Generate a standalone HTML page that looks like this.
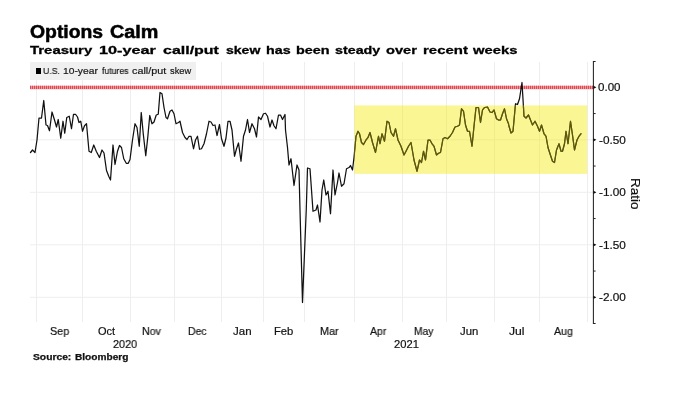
<!DOCTYPE html>
<html><head><meta charset="utf-8"><title>Options Calm</title>
<style>
html,body{margin:0;padding:0;background:#fff;}
body{width:681px;height:400px;position:relative;overflow:hidden;font-family:"Liberation Sans",sans-serif;color:#111;}
.t{position:absolute;white-space:nowrap;line-height:1;transform-origin:0 0;will-change:transform;}
.c{position:absolute;white-space:nowrap;line-height:1;text-align:center;width:60px;font-size:11px;color:#222;}
</style></head><body>

<svg width="681" height="400" viewBox="0 0 681 400" style="position:absolute;left:0;top:0">
<line x1="36.5" y1="62" x2="36.5" y2="322" stroke="#eeeeee" stroke-width="1"/>
<line x1="82.5" y1="62" x2="82.5" y2="322" stroke="#eeeeee" stroke-width="1"/>
<line x1="130.5" y1="62" x2="130.5" y2="322" stroke="#eeeeee" stroke-width="1"/>
<line x1="174.5" y1="62" x2="174.5" y2="322" stroke="#eeeeee" stroke-width="1"/>
<line x1="221.5" y1="62" x2="221.5" y2="322" stroke="#eeeeee" stroke-width="1"/>
<line x1="263.5" y1="62" x2="263.5" y2="322" stroke="#eeeeee" stroke-width="1"/>
<line x1="304.5" y1="62" x2="304.5" y2="322" stroke="#eeeeee" stroke-width="1"/>
<line x1="354.5" y1="62" x2="354.5" y2="322" stroke="#eeeeee" stroke-width="1"/>
<line x1="402.5" y1="62" x2="402.5" y2="322" stroke="#eeeeee" stroke-width="1"/>
<line x1="446.5" y1="62" x2="446.5" y2="322" stroke="#eeeeee" stroke-width="1"/>
<line x1="494.5" y1="62" x2="494.5" y2="322" stroke="#eeeeee" stroke-width="1"/>
<line x1="539.5" y1="62" x2="539.5" y2="322" stroke="#eeeeee" stroke-width="1"/>
<line x1="587.5" y1="62" x2="587.5" y2="322" stroke="#eeeeee" stroke-width="1"/>
<line x1="30" y1="87.3" x2="593" y2="87.3" stroke="#eeeeee" stroke-width="1"/>
<line x1="30" y1="139.8" x2="593" y2="139.8" stroke="#eeeeee" stroke-width="1"/>
<line x1="30" y1="192.3" x2="593" y2="192.3" stroke="#eeeeee" stroke-width="1"/>
<line x1="30" y1="244.8" x2="593" y2="244.8" stroke="#eeeeee" stroke-width="1"/>
<line x1="30" y1="297.3" x2="593" y2="297.3" stroke="#eeeeee" stroke-width="1"/>
<line x1="30" y1="87.4" x2="593" y2="87.4" stroke="#f0959a" stroke-width="3.5"/>
<line x1="30" y1="87.4" x2="593" y2="87.4" stroke="#dd4a55" stroke-width="3.3" stroke-dasharray="1 1"/>
<path d="M30.5,152.5 L32.5,150.0 L35.0,152.5 L37.0,140.0 L39.0,118.0 L41.5,118.0 L43.75,100.5 L46.0,125.0 L47.5,125.5 L49.5,130.75 L52.0,112.0 L54.5,120.0 L56.5,127.0 L58.25,119.5 L60.75,138.25 L63.0,121.25 L64.75,133.25 L66.75,117.5 L69.25,116.25 L71.5,128.75 L73.5,114.25 L75.5,114.25 L77.5,117.0 L79.0,122.5 L80.75,121.25 L82.5,131.25 L84.5,125.75 L86.5,123.75 L89.0,151.25 L91.25,152.5 L93.75,145.0 L96.25,151.25 L99.5,157.5 L102.0,150.0 L104.0,153.0 L106.5,170.5 L108.75,176.25 L110.5,180.0 L113.0,145.0 L115.0,164.5 L117.5,151.25 L119.5,145.5 L121.5,147.5 L123.75,158.75 L126.25,163.25 L128.25,163.25 L130.0,159.5 L132.5,140.0 L135.0,123.75 L137.0,127.5 L139.25,146.25 L141.25,112.5 L143.25,133.75 L145.75,155.75 L147.75,137.5 L149.75,115.5 L152.0,123.75 L154.0,122.0 L156.25,115.0 L158.25,114.25 L160.0,92.5 L162.0,93.75 L164.0,107.5 L166.0,117.5 L167.5,118.75 L170.0,111.25 L172.0,110.0 L174.0,113.75 L176.0,123.75 L178.5,122.5 L180.0,121.25 L182.5,132.5 L185.0,137.5 L187.0,139.5 L189.0,136.25 L191.0,136.25 L193.5,148.75 L195.5,140.0 L197.5,136.25 L199.5,149.25 L201.5,148.75 L204.0,143.75 L206.5,133.75 L209.0,121.25 L211.0,122.0 L213.0,125.5 L215.0,125.0 L217.0,135.5 L219.5,124.5 L221.5,138.75 L224.0,146.25 L226.0,138.0 L228.0,121.25 L230.0,121.25 L232.0,130.0 L234.5,156.25 L236.5,148.75 L238.5,143.0 L241.0,161.25 L243.5,136.25 L245.5,130.0 L247.5,119.5 L249.5,132.5 L252.0,123.75 L254.5,128.75 L256.5,137.0 L258.5,117.0 L261.0,119.5 L263.5,113.75 L265.5,113.25 L267.5,116.25 L270.0,127.0 L272.0,120.0 L274.0,125.75 L276.0,128.75 L278.5,115.0 L280.5,115.0 L282.5,119.5 L285.0,114.5 L285.5,130.0 L287.5,147.5 L289.0,165.0 L291.0,158.75 L294.0,185.5 L297.0,165.0 L299.0,170.0 L300.0,210.0 L302.5,302.5 L306.25,210.0 L307.5,168.0 L310.0,168.75 L313.0,211.25 L316.0,210.0 L317.5,205.0 L320.0,222.0 L322.0,190.0 L323.75,180.0 L326.0,195.0 L328.0,191.25 L330.5,213.75 L333.0,170.0 L335.0,195.0 L337.5,182.5 L339.0,173.0 L341.5,186.25 L344.0,183.75 L346.5,168.75 L349.0,167.5 L350.5,165.5 L352.5,170.0 L354.0,157.5 L356.0,136.25 L358.0,131.25 L359.5,133.75 L361.5,142.5 L363.5,144.5 L366.0,140.0 L368.0,137.5 L370.0,132.5 L372.5,142.5 L375.5,152.5 L378.5,136.25 L380.0,143.75 L382.0,133.75 L384.5,141.25 L387.0,121.25 L389.0,122.5 L391.0,132.5 L393.5,136.25 L395.5,128.75 L398.0,140.0 L401.0,146.25 L404.0,155.0 L406.0,151.25 L408.5,146.25 L411.0,142.5 L414.0,160.0 L417.0,171.25 L419.5,160.0 L421.5,162.5 L423.5,151.25 L425.5,160.0 L428.0,140.0 L430.0,140.0 L432.0,143.75 L434.0,146.25 L436.5,155.0 L438.5,153.25 L440.5,152.5 L443.0,138.75 L445.0,137.5 L447.5,138.75 L450.0,136.25 L452.5,132.5 L455.0,127.0 L457.5,126.25 L459.5,125.0 L461.5,108.75 L463.5,111.25 L465.5,125.0 L467.5,131.25 L469.5,131.25 L472.0,146.25 L474.0,126.25 L476.0,107.5 L478.5,107.5 L480.5,122.5 L482.5,110.0 L484.5,107.5 L487.5,107.0 L490.0,112.0 L492.0,112.5 L494.0,110.0 L496.5,118.75 L498.5,120.0 L500.5,120.0 L502.5,113.75 L504.5,108.75 L506.5,118.75 L508.5,123.75 L509.0,126.25 L511.0,133.0 L513.0,131.25 L515.5,103.75 L517.5,104.5 L519.5,98.75 L522.0,82.5 L524.0,116.25 L526.0,118.0 L528.5,115.0 L530.5,120.0 L532.5,125.0 L535.0,121.25 L537.5,126.25 L539.5,131.25 L541.5,125.0 L544.0,133.75 L546.0,136.25 L548.0,147.5 L550.0,153.75 L552.5,161.25 L554.5,162.5 L556.5,150.0 L559.0,143.75 L561.0,151.25 L562.5,151.25 L564.5,143.75 L566.0,131.25 L568.0,143.75 L570.5,121.25 L572.5,135.0 L574.5,150.0 L577.0,140.0 L579.0,136.25 L581.0,133.75" fill="none" stroke="#111" stroke-width="1.25" stroke-linejoin="round" stroke-linecap="round"/>
<rect x="354.3" y="105.4" width="232.9" height="68.4" fill="rgba(245,234,0,0.42)"/>
<clipPath id="yc"><rect x="354.3" y="105.4" width="232.9" height="68.4"/></clipPath>
<path d="M30.5,152.5 L32.5,150.0 L35.0,152.5 L37.0,140.0 L39.0,118.0 L41.5,118.0 L43.75,100.5 L46.0,125.0 L47.5,125.5 L49.5,130.75 L52.0,112.0 L54.5,120.0 L56.5,127.0 L58.25,119.5 L60.75,138.25 L63.0,121.25 L64.75,133.25 L66.75,117.5 L69.25,116.25 L71.5,128.75 L73.5,114.25 L75.5,114.25 L77.5,117.0 L79.0,122.5 L80.75,121.25 L82.5,131.25 L84.5,125.75 L86.5,123.75 L89.0,151.25 L91.25,152.5 L93.75,145.0 L96.25,151.25 L99.5,157.5 L102.0,150.0 L104.0,153.0 L106.5,170.5 L108.75,176.25 L110.5,180.0 L113.0,145.0 L115.0,164.5 L117.5,151.25 L119.5,145.5 L121.5,147.5 L123.75,158.75 L126.25,163.25 L128.25,163.25 L130.0,159.5 L132.5,140.0 L135.0,123.75 L137.0,127.5 L139.25,146.25 L141.25,112.5 L143.25,133.75 L145.75,155.75 L147.75,137.5 L149.75,115.5 L152.0,123.75 L154.0,122.0 L156.25,115.0 L158.25,114.25 L160.0,92.5 L162.0,93.75 L164.0,107.5 L166.0,117.5 L167.5,118.75 L170.0,111.25 L172.0,110.0 L174.0,113.75 L176.0,123.75 L178.5,122.5 L180.0,121.25 L182.5,132.5 L185.0,137.5 L187.0,139.5 L189.0,136.25 L191.0,136.25 L193.5,148.75 L195.5,140.0 L197.5,136.25 L199.5,149.25 L201.5,148.75 L204.0,143.75 L206.5,133.75 L209.0,121.25 L211.0,122.0 L213.0,125.5 L215.0,125.0 L217.0,135.5 L219.5,124.5 L221.5,138.75 L224.0,146.25 L226.0,138.0 L228.0,121.25 L230.0,121.25 L232.0,130.0 L234.5,156.25 L236.5,148.75 L238.5,143.0 L241.0,161.25 L243.5,136.25 L245.5,130.0 L247.5,119.5 L249.5,132.5 L252.0,123.75 L254.5,128.75 L256.5,137.0 L258.5,117.0 L261.0,119.5 L263.5,113.75 L265.5,113.25 L267.5,116.25 L270.0,127.0 L272.0,120.0 L274.0,125.75 L276.0,128.75 L278.5,115.0 L280.5,115.0 L282.5,119.5 L285.0,114.5 L285.5,130.0 L287.5,147.5 L289.0,165.0 L291.0,158.75 L294.0,185.5 L297.0,165.0 L299.0,170.0 L300.0,210.0 L302.5,302.5 L306.25,210.0 L307.5,168.0 L310.0,168.75 L313.0,211.25 L316.0,210.0 L317.5,205.0 L320.0,222.0 L322.0,190.0 L323.75,180.0 L326.0,195.0 L328.0,191.25 L330.5,213.75 L333.0,170.0 L335.0,195.0 L337.5,182.5 L339.0,173.0 L341.5,186.25 L344.0,183.75 L346.5,168.75 L349.0,167.5 L350.5,165.5 L352.5,170.0 L354.0,157.5 L356.0,136.25 L358.0,131.25 L359.5,133.75 L361.5,142.5 L363.5,144.5 L366.0,140.0 L368.0,137.5 L370.0,132.5 L372.5,142.5 L375.5,152.5 L378.5,136.25 L380.0,143.75 L382.0,133.75 L384.5,141.25 L387.0,121.25 L389.0,122.5 L391.0,132.5 L393.5,136.25 L395.5,128.75 L398.0,140.0 L401.0,146.25 L404.0,155.0 L406.0,151.25 L408.5,146.25 L411.0,142.5 L414.0,160.0 L417.0,171.25 L419.5,160.0 L421.5,162.5 L423.5,151.25 L425.5,160.0 L428.0,140.0 L430.0,140.0 L432.0,143.75 L434.0,146.25 L436.5,155.0 L438.5,153.25 L440.5,152.5 L443.0,138.75 L445.0,137.5 L447.5,138.75 L450.0,136.25 L452.5,132.5 L455.0,127.0 L457.5,126.25 L459.5,125.0 L461.5,108.75 L463.5,111.25 L465.5,125.0 L467.5,131.25 L469.5,131.25 L472.0,146.25 L474.0,126.25 L476.0,107.5 L478.5,107.5 L480.5,122.5 L482.5,110.0 L484.5,107.5 L487.5,107.0 L490.0,112.0 L492.0,112.5 L494.0,110.0 L496.5,118.75 L498.5,120.0 L500.5,120.0 L502.5,113.75 L504.5,108.75 L506.5,118.75 L508.5,123.75 L509.0,126.25 L511.0,133.0 L513.0,131.25 L515.5,103.75 L517.5,104.5 L519.5,98.75 L522.0,82.5 L524.0,116.25 L526.0,118.0 L528.5,115.0 L530.5,120.0 L532.5,125.0 L535.0,121.25 L537.5,126.25 L539.5,131.25 L541.5,125.0 L544.0,133.75 L546.0,136.25 L548.0,147.5 L550.0,153.75 L552.5,161.25 L554.5,162.5 L556.5,150.0 L559.0,143.75 L561.0,151.25 L562.5,151.25 L564.5,143.75 L566.0,131.25 L568.0,143.75 L570.5,121.25 L572.5,135.0 L574.5,150.0 L577.0,140.0 L579.0,136.25 L581.0,133.75" fill="none" stroke="#5a5712" stroke-width="1.2" stroke-linejoin="round" stroke-linecap="round" clip-path="url(#yc)"/>
<path d="M595.6,61.4 H593.4 V323.4 H595.6" fill="none" stroke="#222" stroke-width="1.05"/>
<path d="M593.4,85.7 L596.4,87.3 L593.4,88.89999999999999 Z" fill="#111"/>
<path d="M593.4,138.20000000000002 L596.4,139.8 L593.4,141.4 Z" fill="#111"/>
<path d="M593.4,190.70000000000002 L596.4,192.3 L593.4,193.9 Z" fill="#111"/>
<path d="M593.4,243.20000000000002 L596.4,244.8 L593.4,246.4 Z" fill="#111"/>
<path d="M593.4,295.7 L596.4,297.3 L593.4,298.90000000000003 Z" fill="#111"/>
<line x1="593.4" y1="113.55" x2="595.6" y2="113.55" stroke="#222" stroke-width="1"/>
<line x1="593.4" y1="166.05" x2="595.6" y2="166.05" stroke="#222" stroke-width="1"/>
<line x1="593.4" y1="218.55" x2="595.6" y2="218.55" stroke="#222" stroke-width="1"/>
<line x1="593.4" y1="271.05" x2="595.6" y2="271.05" stroke="#222" stroke-width="1"/>
</svg>
<div class="t" style="left:29.68px;top:23.6px;font-size:17.6px;font-weight:bold;color:#000;-webkit-text-stroke:0.5px #000;transform:scaleX(1.1)">Options</div>
<div class="t" style="left:110.41px;top:23.6px;font-size:17.6px;font-weight:bold;color:#000;-webkit-text-stroke:0.5px #000;transform:scaleX(1.125)">Calm</div>
<div class="t" style="left:30.34px;top:44.6px;font-size:11.8px;font-weight:bold;color:#000;-webkit-text-stroke:0.3px #000;transform:scaleX(1.265)">Treasury</div>
<div class="t" style="left:98.97px;top:44.6px;font-size:11.8px;font-weight:bold;color:#000;-webkit-text-stroke:0.3px #000;transform:scaleX(1.375)">10-year</div>
<div class="t" style="left:163.07px;top:44.6px;font-size:11.8px;font-weight:bold;color:#000;-webkit-text-stroke:0.3px #000;transform:scaleX(1.354)">call/put</div>
<div class="t" style="left:225.66px;top:44.6px;font-size:11.8px;font-weight:bold;color:#000;-webkit-text-stroke:0.3px #000;transform:scaleX(1.189)">skew</div>
<div class="t" style="left:265.94px;top:44.6px;font-size:11.8px;font-weight:bold;color:#000;-webkit-text-stroke:0.3px #000;transform:scaleX(1.211)">has</div>
<div class="t" style="left:296.08px;top:44.6px;font-size:11.8px;font-weight:bold;color:#000;-webkit-text-stroke:0.3px #000;transform:scaleX(1.221)">been</div>
<div class="t" style="left:334.89px;top:44.6px;font-size:11.8px;font-weight:bold;color:#000;-webkit-text-stroke:0.3px #000;transform:scaleX(1.211)">steady</div>
<div class="t" style="left:386.38px;top:44.6px;font-size:11.8px;font-weight:bold;color:#000;-webkit-text-stroke:0.3px #000;transform:scaleX(1.237)">over</div>
<div class="t" style="left:422.8px;top:44.6px;font-size:11.8px;font-weight:bold;color:#000;-webkit-text-stroke:0.3px #000;transform:scaleX(1.268)">recent</div>
<div class="t" style="left:473.0px;top:44.6px;font-size:11.8px;font-weight:bold;color:#000;-webkit-text-stroke:0.3px #000;transform:scaleX(1.254)">weeks</div>
<div style="position:absolute;left:30.3px;top:61.6px;width:166px;height:18.8px;background:#f0f0f0"></div>
<div style="position:absolute;left:35.7px;top:68.2px;width:5.8px;height:5.9px;background:#000"></div>
<div class="t" style="left:42.89px;top:67.0px;font-size:9.2px;color:#111;-webkit-text-stroke:0.2px #222;transform:scaleX(0.948)">U.S.</div>
<div class="t" style="left:62.76px;top:67.0px;font-size:9.2px;color:#111;-webkit-text-stroke:0.2px #222;transform:scaleX(1.117)">10-year</div>
<div class="t" style="left:102.48px;top:67.0px;font-size:9.2px;color:#111;-webkit-text-stroke:0.2px #222;transform:scaleX(0.941)">futures</div>
<div class="t" style="left:131.96px;top:67.0px;font-size:9.2px;color:#111;-webkit-text-stroke:0.2px #222;transform:scaleX(1.174)">call/put</div>
<div class="t" style="left:169.55px;top:67.0px;font-size:9.2px;color:#111;-webkit-text-stroke:0.2px #222;transform:scaleX(1.007)">skew</div>
<div class="t" style="left:50.01px;top:326.4px;font-size:11px;color:#111;-webkit-text-stroke:0.2px #111;transform:scaleX(0.98)">Sep</div>
<div class="t" style="left:97.5px;top:326.4px;font-size:11px;color:#111;-webkit-text-stroke:0.2px #111;transform:scaleX(1.0)">Oct</div>
<div class="t" style="left:141.65px;top:326.4px;font-size:11px;color:#111;-webkit-text-stroke:0.2px #111;transform:scaleX(0.966)">Nov</div>
<div class="t" style="left:187.92px;top:326.4px;font-size:11px;color:#111;-webkit-text-stroke:0.2px #111;transform:scaleX(0.952)">Dec</div>
<div class="t" style="left:233.49px;top:326.4px;font-size:11px;color:#111;-webkit-text-stroke:0.2px #111;transform:scaleX(1.045)">Jan</div>
<div class="t" style="left:273.61px;top:326.4px;font-size:11px;color:#111;-webkit-text-stroke:0.2px #111;transform:scaleX(1.021)">Feb</div>
<div class="t" style="left:319.64px;top:326.4px;font-size:11px;color:#111;-webkit-text-stroke:0.2px #111;transform:scaleX(0.979)">Mar</div>
<div class="t" style="left:370.0px;top:326.4px;font-size:11px;color:#111;-webkit-text-stroke:0.2px #111;transform:scaleX(0.956)">Apr</div>
<div class="t" style="left:413.69px;top:326.4px;font-size:11px;color:#111;-webkit-text-stroke:0.2px #111;transform:scaleX(0.931)">May</div>
<div class="t" style="left:460.49px;top:326.4px;font-size:11px;color:#111;-webkit-text-stroke:0.2px #111;transform:scaleX(1.03)">Jun</div>
<div class="t" style="left:508.97px;top:326.4px;font-size:11px;color:#111;-webkit-text-stroke:0.2px #111;transform:scaleX(1.105)">Jul</div>
<div class="t" style="left:554.25px;top:326.4px;font-size:11px;color:#111;-webkit-text-stroke:0.2px #111;transform:scaleX(0.967)">Aug</div>
<div class="t" style="left:113.26px;top:339.1px;font-size:11px;color:#111;-webkit-text-stroke:0.2px #111;transform:scaleX(0.989)">2020</div>
<div class="t" style="left:394.49px;top:339.1px;font-size:11px;color:#111;-webkit-text-stroke:0.2px #111;transform:scaleX(1.016)">2021</div>
<div class="t" style="left:597.79px;top:82.0px;font-size:11.3px;color:#111;-webkit-text-stroke:0.2px #111;transform:scaleX(1.024)">0.00</div>
<div class="t" style="left:599.28px;top:134.5px;font-size:11.3px;color:#111;-webkit-text-stroke:0.2px #111;transform:scaleX(1.044)">-0.50</div>
<div class="t" style="left:599.28px;top:187.0px;font-size:11.3px;color:#111;-webkit-text-stroke:0.2px #111;transform:scaleX(1.044)">-1.00</div>
<div class="t" style="left:599.28px;top:239.5px;font-size:11.3px;color:#111;-webkit-text-stroke:0.2px #111;transform:scaleX(1.044)">-1.50</div>
<div class="t" style="left:599.28px;top:292.0px;font-size:11.3px;color:#111;-webkit-text-stroke:0.2px #111;transform:scaleX(1.044)">-2.00</div>
<div class="t" id="ratio" style="left:642.3px;top:177.6px;font-size:13.5px;color:#111;-webkit-text-stroke:0.2px #111;transform:rotate(90deg)">Ratio</div>
<div class="t" style="left:32.71px;top:352.8px;font-size:9px;font-weight:bold;color:#111;-webkit-text-stroke:0.25px #111;transform:scaleX(1.143)">Source:</div>
<div class="t" style="left:74.8px;top:352.8px;font-size:9px;font-weight:bold;color:#111;-webkit-text-stroke:0.25px #111;transform:scaleX(1.124)">Bloomberg</div>
</body></html>
